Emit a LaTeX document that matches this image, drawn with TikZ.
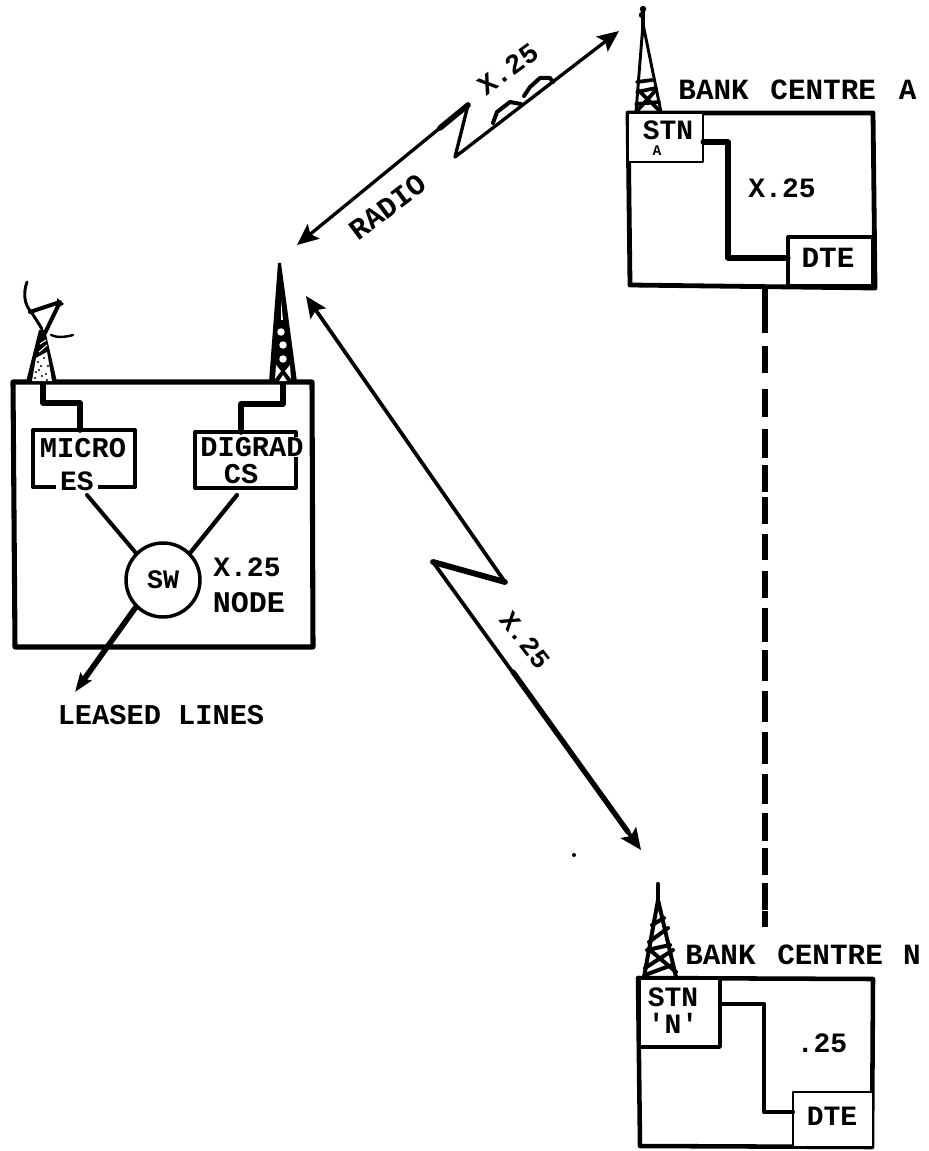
\documentclass[tikz,border=0pt]{standalone}
\usepackage{fontspec}
\setmainfont{Liberation Serif}
\setmonofont{Liberation Mono}
\usetikzlibrary{arrows.meta}
\tikzset{
  ink/.style={line width=#1,black,line cap=round,line join=round},
  ink/.default=2.2pt,
  lab/.style={font=\ttfamily\bfseries\fontsize{#1}{#1}\selectfont,inner sep=0pt,text=black},
  lab/.default=22,
  whitelab/.style={lab=#1,fill=white},
  pxbox/.style n args={3}{draw=black,fill=white,line width=#3,inner sep=0pt,line join=round,minimum width=#1*0.75pt,minimum height=#2*0.75pt},
  headboth/.style={{Stealth[length=16pt,width=14pt,inset=3pt]}-{Stealth[length=16pt,width=14pt,inset=3pt]}},
  headend/.style={-{Stealth[length=14pt,width=10pt,inset=2pt]}}
}
\begin{document}
\begin{tikzpicture}[x=0.75pt,y=-0.75pt]
\useasboundingbox (0,0) rectangle (928,1151);
% ---------- named free ends
\coordinate (dishfoot) at (43,382);
\coordinate (mastfoot) at (283,382);
\coordinate (microin) at (80,430);
\coordinate (digradin) at (241,432);
\coordinate (micS) at (87,495);
\coordinate (digS) at (237,495);
\coordinate (leasedEnd) at (75,692);
\coordinate (radioL) at (297,245);
\coordinate (radioP) at (468,105);
\coordinate (radioV) at (455,157);
\coordinate (radioR) at (619,31);
\coordinate (linkL) at (306,296);
\coordinate (linkP) at (505,582);
\coordinate (linkV) at (433,562);
\coordinate (linkR) at (641,850);
\coordinate (dashTop) at (765,288);
\coordinate (dashEnd) at (765,927);
% ---------- X.25 node
\draw[ink=3.8pt] (13,382) -- (312,382) -- (313,647) -- (15,647) -- cycle;
\node[pxbox={102}{57}{3pt}] (microbox) at (84,458.5) {};
\node[pxbox={101}{56}{3pt}] (digradbox) at (245.5,460) {};
\node[whitelab=21.5] (micro) at (83,448) {MICRO};
\node[whitelab=21,minimum width=32pt] (es) at (77,481) {ES};
\node[whitelab=21.5] (digrad) at (252,447) {DIGRAD};
\node[lab=21.5] (cs) at (241,474) {CS};
\draw[ink=4.2pt] (dishfoot) -- ++(0,21) -| (microin);
\draw[ink=4.2pt] (mastfoot) -- ++(0,22) -| (digradin);
\node[pxbox={74}{74}{2.6pt},circle] (sw) at (163,580) {};
\node[lab=20] (swt) at (163,580) {SW};
\draw[ink=3pt] (micS) -- (sw.135);
\draw[ink=3.2pt] (digS) -- (sw.45);
\draw[ink=4.2pt,headend] (sw.225) -- (leasedEnd);
\node[lab=21] (x25n) at (247,567) {X.25};
\node[lab=22.5] (nodet) at (249,603) {NODE};
\node[lab=21.5] (leased) at (161,715) {LEASED LINES};
% dish tower
\fill (26,382) -- (39,330) -- (45,330) -- (57,382) -- cycle;
\fill[white] (32,381) -- (36,358) -- (47,352) -- (52,381) -- cycle;
\foreach \p in {(36,372),(41,366),(46,374),(38,362),(44,358),(48,366),(35,378),(42,376),(47,380),(39,370)} \fill[black] \p circle (0.9pt);
\draw[white,line width=0.8pt] (39,352) -- (47,345) (40,344) -- (46,340);
\draw[ink=2.2pt] (27,282) .. controls (23,293) and (24,305) .. (32,313) -- (42,329);
\draw[ink=3pt] (30,312) -- (60,302) -- (45,333);
\fill (57,298) -- (64,304) -- (58,308) -- cycle;
\draw[ink=1.8pt] (51,335) .. controls (57,338) and (66,337) .. (73,335);
% mast
\fill (269,382) -- (278,263) -- (281,263) -- (297,382) -- cycle;
\foreach \x/\y in {281/332,283/345,283/359} \fill[white] (\x,\y) circle (2.8pt);
\fill[white] (281,300) -- (283,320) -- (281,320) -- cycle;
\fill[white] (275,379) -- (281,371) -- (276,365) -- cycle;
\fill[white] (291,379) -- (285,371) -- (290,365) -- cycle;
\fill[white] (279,381) -- (283,375) -- (287,381) -- cycle;
% ---------- bank centre A
\draw[ink=3.6pt] (628,113) -- (873,113) -- (875,288) -- (630,285) -- cycle;
\node[pxbox={75}{49}{2.2pt}] (stna) at (665.5,137.5) {};
\node[pxbox={85}{49}{2.4pt}] (dtea) at (830.5,261.5) {};
\coordinate (stnaout) at (703,142);
\coordinate (dteain) at (788,258);
\draw[ink=3.8pt] (stnaout) -- ++(25,0) |- (dteain);
\node[lab=21] (stnat) at (668,130) {STN};
\node[lab=11] (stnaa) at (657,151) {A};
\node[lab=22] (dteat) at (828,258) {DTE};
\node[lab=21] (x25a) at (782,188) {X.25};
\node[lab=22] (banka) at (797.5,90) {BANK\hspace{3pt} CENTRE\hspace{4pt} A};
% tower A
\draw[ink=3pt] (643,9) -- (643,32);
\draw[ink=2.2pt] (636,112) -- (643,24) -- (661,112);
\draw[ink=2.8pt] (637,82) -- (652,80) (637,92) -- (656,88) (636,112) -- (656,90) (638,90) -- (661,112) (636,104) -- (659,102);
\fill (642,15) circle (2.4pt) (643,9) circle (2.4pt);
% ---------- bank centre N
\draw[ink=3.4pt] (638,978) -- (873,979) -- (872,1147) -- (640,1146) -- cycle;
\node[pxbox={81}{69}{2.6pt}] (stnn) at (679.5,1012.5) {};
\node[pxbox={80}{55}{2.2pt}] (dten) at (833,1119.5) {};
\coordinate (stnnout) at (720,1004);
\coordinate (dtenin) at (793,1112);
\draw[ink=3.2pt] (stnnout) -- ++(44,0) |- (dtenin);
\node[lab=21] (stnnt) at (673,997) {STN};
\node[lab=21] (stnnn) at (673,1023) {'N'};
\node[lab=21] (dtent) at (832,1116) {DTE};
\node[lab=21] (x25nn) at (822,1043) {.25};
\node[lab=22] (bankn) at (803,955) {BANK\hspace{3pt} CENTRE\hspace{2pt} N};
% tower N
\draw[ink=3.2pt] (658,884) -- (658,905);
\draw[ink=3pt] (644,977) -- (658,900) -- (676,977);
\draw[ink=3pt] (652,925) -- (664,918) (649,942) -- (668,928) (647,950) -- (670,945) (645,968) -- (673,950) (650,950) -- (676,972) (645,975) -- (672,965);
% ---------- radio link
\draw[ink=2.5pt,headboth] (radioL) -- (radioP) -- (radioV) -- (radioR);
\draw[ink=4.2pt] (440,128) -- (radioP);
\draw[ink=3pt] (493,123) -- (497,112) -- (510,102) -- (521,104);
\draw[ink=3pt] (524,96) -- (530,87) -- (540,78) -- (550,78) -- (553,82);
\node[lab=21,rotate=36] (x25r) at (508,69) {X.25};
\node[lab=22,rotate=37] (radiot) at (388,207) {RADIO};
% ---------- x.25 link
\draw[ink=2.8pt,headboth] (linkL) -- (linkP) -- (linkV) -- (linkR);
\draw[ink=4.4pt] (linkP) -- (linkV);
\draw[ink=4pt] (513,672) -- (628,832);
\node[lab=20,rotate=-52] (x25l) at (525,640) {X.25};
% ---------- dashed line between centres
\draw[black,line width=4pt,dash pattern=on 33.75pt off 9.75pt on 20.25pt off 12pt on 21pt off 9pt on 21.75pt off 5.25pt on 20.25pt off 3.75pt on 20.25pt off 7.5pt on 19.5pt off 8.25pt on 20.25pt off 7.5pt on 25.5pt off 6pt on 23.25pt off 7.5pt on 23.25pt off 7.5pt on 24pt off 7.5pt on 22.5pt off 6.75pt on 21pt off 5.25pt on 20.25pt off 6pt on 20.25pt off 0.75pt on 12pt off 20pt] (dashTop) -- (dashEnd);
\fill (574,855) circle (1.5pt);
\end{tikzpicture}
\end{document}
